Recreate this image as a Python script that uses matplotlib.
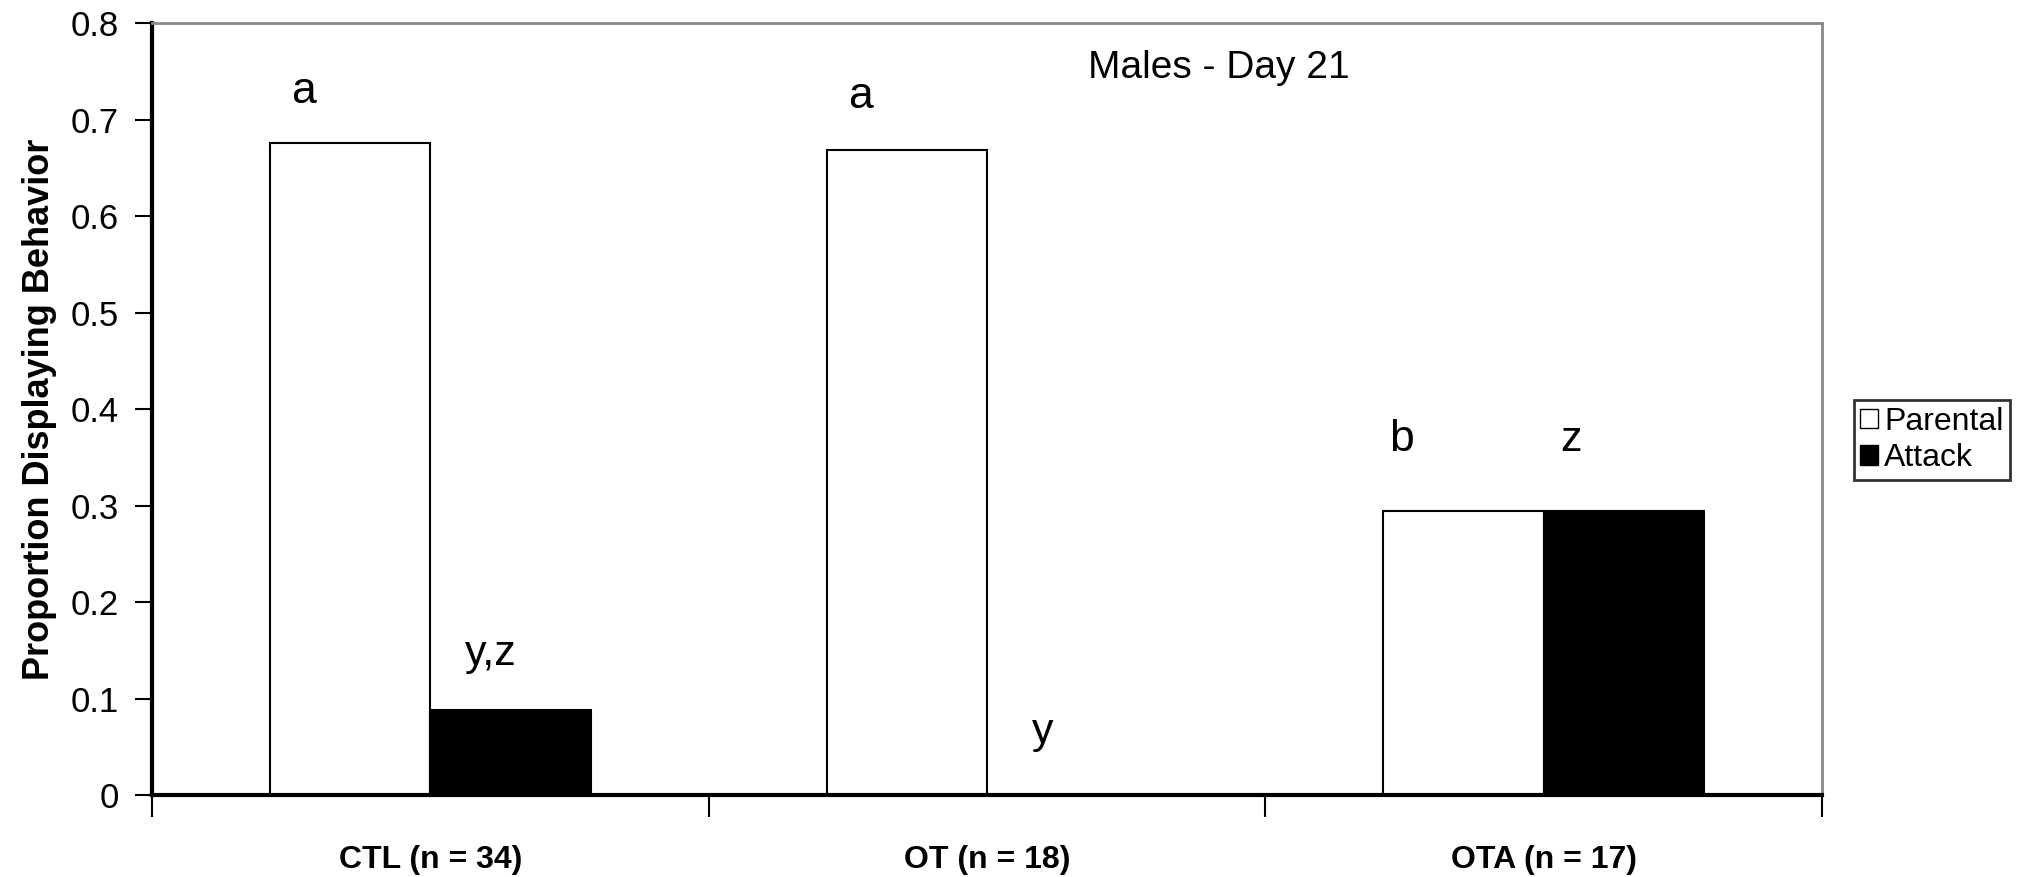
import numpy as np
import matplotlib
matplotlib.use("Agg")
import matplotlib.pyplot as plt
from matplotlib.patches import Patch

groups = ["CTL (n = 34)", "OT (n = 18)", "OTA (n = 17)"]
parental = [0.676, 0.669, 0.294]
attack = [0.088, 0.0, 0.294]
parental_letters = ["a", "a", "b"]
attack_letters = ["y,z", "y", "z"]

# where the significance letters sit (baseline, data units) and how far left of bar centre
letter_y_par = [0.717, 0.712, 0.357]
letter_y_att = [0.135, 0.054, 0.357]
letter_dx_par = [-0.083, -0.084, -0.112]
letter_dx_att = [-0.035, -0.044, -0.096]

plt.rcParams["font.family"] = ["Liberation Sans", "DejaVu Sans"]

fig = plt.figure(figsize=(20.43, 8.77), dpi=100)
ax = fig.add_axes([0.0744, 0.0935, 0.8175, 0.880])

x = np.arange(len(groups))
w = 0.288
ax.bar(x - w / 2, parental, w, color="white", edgecolor="black", linewidth=1.5, label="Parental")
ax.bar(x + w / 2, attack, w, color="black", edgecolor="black", linewidth=1.5, label="Attack")

for i in range(len(groups)):
    ax.text(x[i] - w / 2 + letter_dx_par[i], letter_y_par[i], parental_letters[i],
            ha="center", va="baseline", fontsize=32)
    ax.text(x[i] + w / 2 + letter_dx_att[i], letter_y_att[i], attack_letters[i],
            ha="center", va="baseline", fontsize=31)

ax.text(1.181, 0.743, "Males - Day 21", ha="left", va="baseline", fontsize=28)

ax.set_xlim(-0.5, 2.5)
ax.set_ylim(0, 0.8)
ax.set_yticks(np.arange(0, 0.81, 0.1))
ax.set_yticklabels(["0", "0.1", "0.2", "0.3", "0.4", "0.5", "0.6", "0.7", "0.8"], fontsize=25)

# ticks at category boundaries
ax.set_xticks([-0.5, 0.5, 1.5, 2.5])
ax.set_xticklabels([])
ax.tick_params(axis="x", length=16, width=1.5, direction="out")
ax.tick_params(axis="y", length=12, width=1.5, direction="out", pad=12)
for i, g in enumerate(groups):
    ax.text(x[i], -0.0757, g, ha="center", va="baseline", fontsize=23, fontweight="bold")

ax.set_ylabel("Proportion Displaying Behavior", fontsize=26, fontweight="bold")
ax.yaxis.set_label_coords(-0.057, 0.5)

for s in ["left", "bottom"]:
    ax.spines[s].set_linewidth(3)
    ax.spines[s].set_color("black")
for s in ["top", "right"]:
    ax.spines[s].set_linewidth(2)
    ax.spines[s].set_color("#888888")

handles = [Patch(facecolor="white", edgecolor="black", label="Parental"),
           Patch(facecolor="black", edgecolor="black", label="Attack")]
leg = ax.legend(handles=handles, loc="center left", bbox_to_anchor=(1.019, 0.46),
                fontsize=23, frameon=True, fancybox=False, handlelength=0.55, handleheight=0.55,
                handletextpad=0.2, borderpad=0.2, labelspacing=0.2, borderaxespad=0)
leg.get_frame().set_edgecolor("black")
leg.get_frame().set_linewidth(2)

fig.savefig("out.png", dpi=100)
